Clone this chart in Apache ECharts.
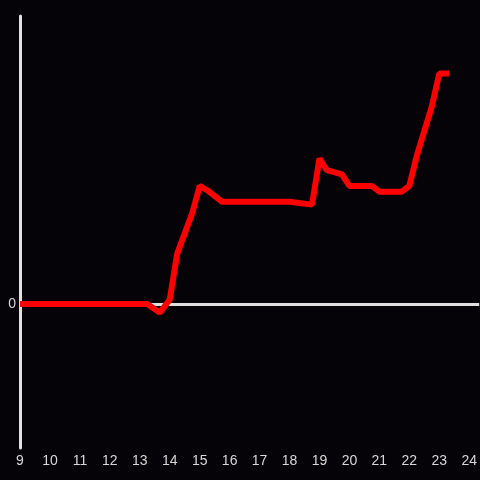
<!DOCTYPE html>
<html>
<head>
<meta charset="utf-8">
<script src="https://cdn.jsdelivr.net/npm/echarts@6/dist/echarts.min.js"></script>
<style>
  html, body { margin: 0; padding: 0; background: #050307; }
  #chart { width: 480px; height: 480px; }
</style>
</head>
<body>
<div id="chart"></div>
<script>
// hours of day (decimal) and value at that time
const hours = [9, 13.25, 13.67, 14.0, 14.25, 14.75, 15.0, 15.25, 15.75, 18.0, 18.75, 19.0, 19.25, 19.75, 20.0, 20.75, 21.0, 21.75, 22.0, 22.25, 22.75, 23.0, 23.33]
const values = [0, 0, -6, 3, 35, 63, 82, 79, 71, 71, 69, 101, 93, 90, 82, 82, 78, 78, 82, 103, 137, 160, 160]

const chart = echarts.init(document.getElementById('chart'))

const option = {
  backgroundColor: '#050307',
  animation: false,
  grid: {
    left: 20,
    right: 0,
    top: 16,
    bottom: 32,
  },
  xAxis: {
    type: 'value',
    min: 9,
    max: 24.3333,
    interval: 1,
    axisLine: { show: false, onZero: false },
    axisTick: { show: false },
    splitLine: { show: false },
    axisLabel: {
      color: '#d8d8d8',
      fontSize: 14,
      margin: 6,
      showMaxLabel: false,
    },
  },
  yAxis: {
    type: 'value',
    min: -100,
    max: 200,
    interval: 100,
    axisLine: {
      show: true,
      lineStyle: { color: '#e0e0e0', width: 3 },
    },
    axisTick: { show: false },
    splitLine: { show: false },
    axisLabel: {
      color: '#d8d8d8',
      fontSize: 14,
      margin: 4,
      formatter: (v) => (v === 0 ? '0' : ''),
    },
  },
  series: [
    {
      // zero line, drawn under the red line
      type: 'line',
      data: [],
      z: 1,
      markLine: {
        silent: true,
        symbol: 'none',
        label: { show: false },
        lineStyle: { color: '#e0e0e0', width: 3, type: 'solid' },
        data: [{ yAxis: 0 }],
      },
    },
    {
      type: 'line',
      data: hours.map((h, i) => [h, values[i]]),
      showSymbol: false,
      lineStyle: { color: '#ff0000', width: 6 },
      z: 5,
    },
  ],
}

chart.setOption(option)
</script>
</body>
</html>
